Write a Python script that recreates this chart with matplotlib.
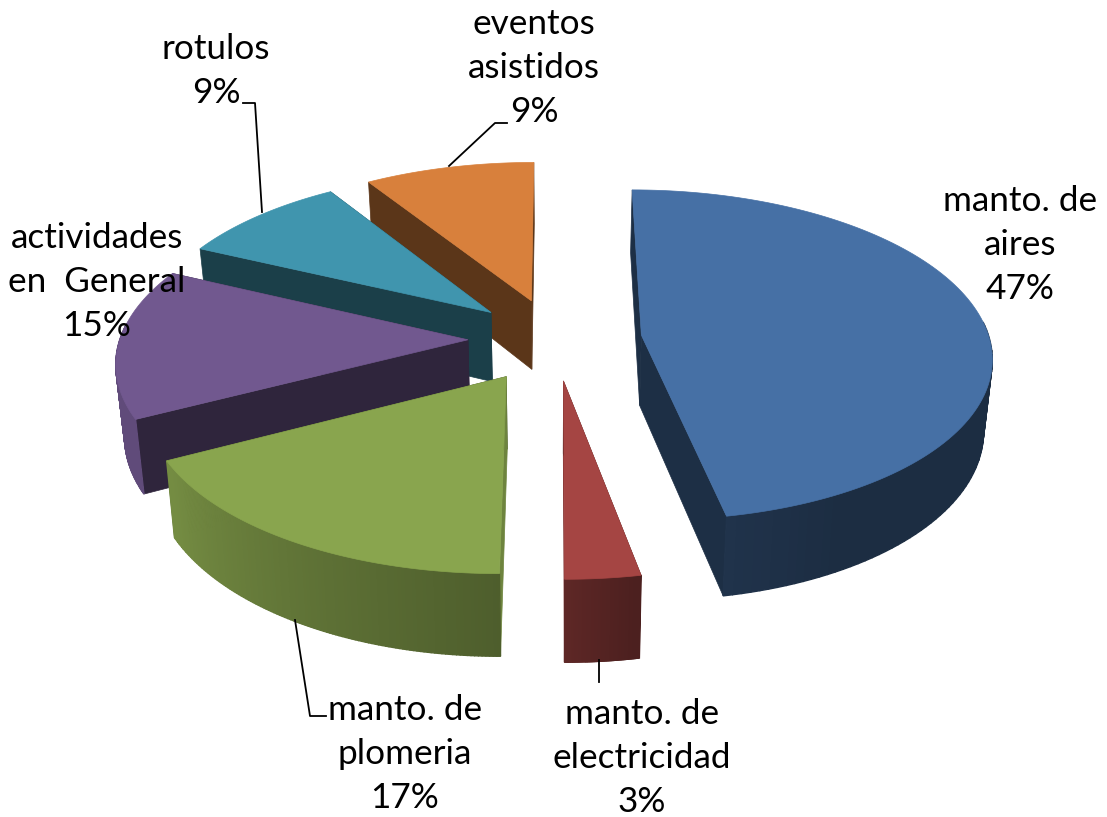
#!/usr/bin/env python3
import numpy as np
import matplotlib
matplotlib.use('Agg')
import matplotlib.pyplot as plt
from matplotlib.colors import to_rgb
from matplotlib.patches import Polygon

labels = ['manto. de\naires', 'manto. de\nelectricidad', 'manto. de\nplomeria',
          'actividades\nen  General', 'rotulos', 'eventos\nasistidos']
# the printed labels are these rounded
percent = [47, 3, 17.4, 14.6, 9, 9]
top_colors = ['#4670a5', '#a54543', '#89a54e', '#71588f', '#4095ae', '#d8803c']
explode = [0.25, 0.25, 0.262, 0.25, 0.25, 0.25]  # radius units

CX, CY = 555, 339
R, K, P, H = 348.0, 0.47, 0.12, 70.5

plt.rcParams['font.family'] = ['Lato', 'DejaVu Sans']
fig = plt.figure(figsize=(11.07, 8.17), dpi=100)
ax = fig.add_axes([0, 0, 1, 1])
ax.set_xlim(0, 1107)
ax.set_ylim(817, 0)
ax.axis('off')


def project(gx, gy, z=0.0):
    s = 1.0 / (1.0 + P * gy)
    return CX + R * gx * s * (1 - 0.02 * z), CY - R * K * gy * s + H * z * s


def rim_shade(angle):
    # the light comes from the left, so the rim gets brighter going round
    return np.interp(np.degrees(angle), [0, 150, 170, 180, 210, 241, 360],
                     [0.40, 0.40, 0.46, 0.57, 0.70, 0.85, 0.85])


def draw_slice(a0, a1, off, top, order):
    mid = (a0 + a1) / 2
    ox, oy = off * np.sin(mid), off * np.cos(mid)
    th = np.linspace(a0, a1, 120)
    gx = ox + np.sin(th)
    gy = oy + np.cos(th)
    rgb = np.array(to_rgb(top))
    # radial walls, end one first so the sliver on green shows its own colour
    for a in (a1, a0):
        f = 0.8 if abs(np.degrees(a) - 180) < 1 else 0.42
        c = rgb * f
        ex, ey = ox + np.sin(a), oy + np.cos(a)
        wall = [project(ox, oy), project(ex, ey), project(ex, ey, 1), project(ox, oy, 1)]
        ax.add_patch(Polygon(wall, closed=True, fc=c, ec=c, lw=0.5, zorder=order))
    # outer wall in strips so it can carry the shading, front half only
    for i in range(len(th) - 1):
        if np.cos(th[i]) > 0.1:
            continue
        c = rgb * rim_shade(th[i])
        q = [project(gx[i], gy[i]), project(gx[i + 1], gy[i + 1]),
             project(gx[i + 1], gy[i + 1], 1), project(gx[i], gy[i], 1)]
        ax.add_patch(Polygon(q, closed=True, fc=c, ec=c, lw=1.0, zorder=order + 0.1))
    pts = [project(ox, oy)] + [project(x, y) for x, y in zip(gx, gy)]
    ax.add_patch(Polygon(pts, closed=True, fc=top, ec=top, lw=0.5, zorder=order + 0.2))


edges = np.cumsum([0] + percent) / sum(percent) * 2 * np.pi
draw_order = [5, 4, 3, 2, 1, 0]
for n, i in enumerate(draw_order):
    draw_slice(edges[i], edges[i + 1], explode[i], top_colors[i], n + 2)

# leader lines
ax.plot([243, 255, 262], [103, 103, 212], color='black', lw=1.3, zorder=20)
ax.plot([507, 495, 449], [123, 123, 166], color='black', lw=1.3, zorder=20)
ax.plot([326, 310, 295], [716, 716, 620], color='black', lw=1.3, zorder=20)
ax.plot([599, 599], [660, 682], color='black', lw=1.3, zorder=20)

label_pos = [(1020, 245), (642, 758), (405, 754), (97, 282), (216, 71), (534, 68)]
for name, p, (x, y) in zip(labels, percent, label_pos):
    ax.text(x, y, name + '\n' + str(round(p)) + '%', ha='center', va='center', fontsize=25.3,
            color='black', linespacing=1.46, zorder=30)

fig.savefig('out.png', dpi=100)
